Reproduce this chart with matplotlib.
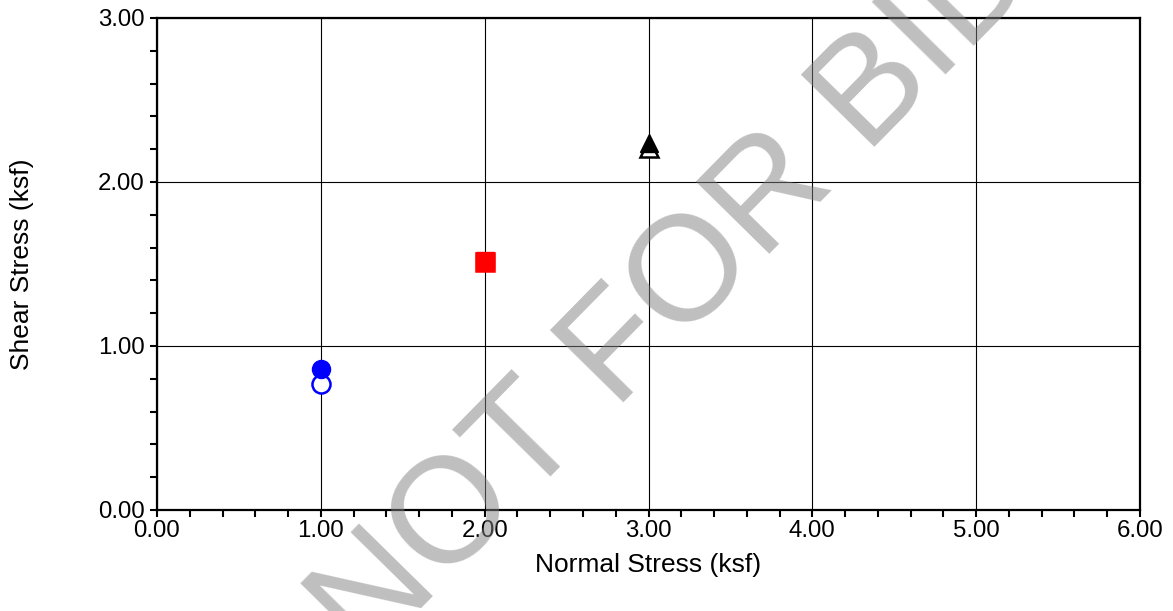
import matplotlib
matplotlib.use("Agg")
import matplotlib.pyplot as plt
from matplotlib.ticker import MultipleLocator, FormatStrFormatter

plt.rcParams['font.family'] = ['Liberation Sans', 'DejaVu Sans']

# Data
normal_stress = [1.0, 2.0, 3.0]
shear_peak = [0.86, 1.52, 2.24]
shear_resid = [0.77, 1.51, 2.21]
colors = ['#0000FF', '#FF0000', '#000000']
markers = ['o', 's', '^']
msizes = [14, 14, 14]

W, H = 1173, 611
fig = plt.figure(figsize=(W / 100, H / 100), dpi=100)
ax = fig.add_axes([157 / W, 1 - 510 / H, (1140 - 157) / W, (510 - 18) / H])

ax.set_xlim(0, 6)
ax.set_ylim(0, 3)
ax.xaxis.set_major_locator(MultipleLocator(1.0))
ax.xaxis.set_minor_locator(MultipleLocator(0.2))
ax.yaxis.set_major_locator(MultipleLocator(1.0))
ax.yaxis.set_minor_locator(MultipleLocator(0.2))
ax.xaxis.set_major_formatter(FormatStrFormatter('%.2f'))
ax.yaxis.set_major_formatter(FormatStrFormatter('%.2f'))
ax.grid(True, which='major', color='black', linewidth=0.8)
ax.set_axisbelow(True)
for s in ax.spines.values():
    s.set_linewidth(1.6)
ax.tick_params(which='both', direction='out', length=5, width=1.5,
               labelsize=17.3)
ax.tick_params(axis='x', pad=2)
ax.tick_params(axis='y', pad=4)

for x, yr, yp, c, m, ms in zip(normal_stress, shear_resid, shear_peak, colors, markers, msizes):
    ax.plot([x], [yr], linestyle='none', marker=m, markersize=ms - 1,
            markerfacecolor='white', markeredgecolor=c, markeredgewidth=1.8,
            zorder=3, clip_on=False)
    ax.plot([x], [yp], linestyle='none', marker=m, markersize=ms - 1,
            markerfacecolor=c, markeredgecolor=c, markeredgewidth=1.0,
            zorder=4, clip_on=False)

ax.set_xlabel('Normal Stress (ksf)', fontsize=19, labelpad=8)
ax.set_ylabel('Shear Stress (ksf)', fontsize=19, labelpad=46)

# Watermark
fig.text(366 / W, 1 - 664 / H, 'NOT FOR BIDDING', fontsize=108,
         rotation=45.5, rotation_mode='anchor', ha='left', va='baseline',
         color='#808080', alpha=0.5)

fig.savefig('out.png', dpi=100)
